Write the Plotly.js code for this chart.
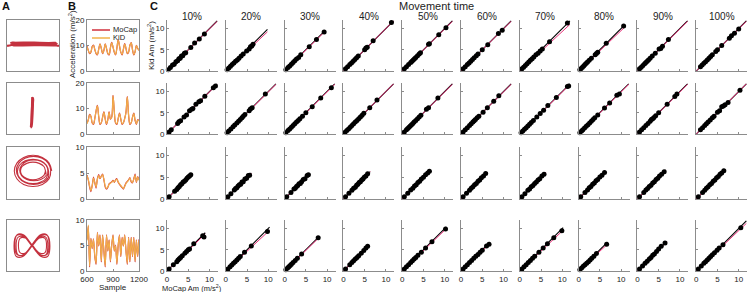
<!DOCTYPE html>
<html><head><meta charset="utf-8">
<script src="https://cdn.plot.ly/plotly-3.0.1.min.js"></script>
<style>html,body{margin:0;padding:0;background:#fff}#chart{width:749px;height:292px}</style>
</head><body><div id="chart"></div>
<script>
// ---------- Panel A : 2D trajectories ----------
const trajAx1 = [-1.0,-0.82,0.9,-0.84,0.88,-0.8,0.92,-0.83,0.9,-0.85,0.87,-0.8,0.9,1.0];
const trajAy1 = [-0.02,0.02,0.06,0.1,0.04,0.0,0.08,0.12,0.02,0.06,0.1,0.04,0.0,-0.02];
const trajAx2 = [-0.02,-0.06,0.0,-0.08,-0.02,-0.07,0.01,-0.05,-0.03];
const trajAy2 = [0.45,-0.7,0.4,-0.73,0.42,-0.68,0.38,-0.72,0.44];
const trajAx3 = [0.72,0.62,0.36,0,-0.36,-0.62,-0.72,-0.62,-0.36,0,0.36,0.62,
                 0.68,0.59,0.35,0.02,-0.31,-0.55,-0.64,-0.55,-0.31,0.02,0.35,0.59,
                 0.6,0.52,0.3,0,-0.3,-0.52,-0.6,-0.52,-0.3,0,0.3,0.52,
                 0.57,0.5,0.3,0.03,-0.24,-0.44,-0.51,-0.44,-0.24,0.03,0.3,0.5,
                 0.48,0.42,0.24,0,-0.24,-0.42,-0.48,-0.42,-0.24,0,0.24,0.42,0.48];
const trajAy3 = [0.08,0.38,0.6,0.68,0.6,0.38,0.08,-0.22,-0.44,-0.52,-0.44,-0.22,
                 0.1,0.37,0.57,0.64,0.57,0.37,0.1,-0.17,-0.37,-0.44,-0.37,-0.17,
                 0.06,0.3,0.47,0.53,0.47,0.3,0.06,-0.18,-0.35,-0.41,-0.35,-0.18,
                 0.1,0.3,0.45,0.5,0.45,0.3,0.1,-0.1,-0.25,-0.3,-0.25,-0.1,
                 0.08,0.25,0.37,0.42,0.37,0.25,0.08,-0.09,-0.21,-0.26,-0.21,-0.09,0.08];
const trajAx4 = [-0.04,0.31,0.56,0.65,0.56,0.31,-0.04,-0.39,-0.64,-0.73,-0.64,-0.39,
                 -0.04,0.26,0.49,0.57,0.49,0.26,-0.04,-0.34,-0.57,-0.65,-0.57,-0.34,
                 -0.02,0.25,0.45,0.52,0.45,0.25,-0.02,-0.29,-0.49,-0.56,-0.49,-0.29,
                 -0.04,0.29,0.53,0.62,0.53,0.29,-0.04,-0.37,-0.61,-0.7,-0.61,-0.37,-0.04];
const trajAy4 = [-0.02,0.39,0.39,-0.02,-0.43,-0.43,-0.02,0.39,0.39,-0.02,-0.43,-0.43,
                 -0.02,0.33,0.33,-0.02,-0.37,-0.37,-0.02,0.33,0.33,-0.02,-0.37,-0.37,
                 0.0,0.29,0.29,0.0,-0.29,-0.29,0.0,0.29,0.29,0.0,-0.29,-0.29,
                 0.03,0.42,0.42,0.03,-0.36,-0.36,0.03,0.42,0.42,0.03,-0.36,-0.36,0.03];

// ---------- Panel B : acceleration time series ----------
const sampleIdx = [600,615,630,645,660,675,690,705,720,735,750,765,780,795,810,825,840,855,870,885,900,
                   915,930,945,960,975,990,1005,1020,1035,1050,1065,1080,1095,1110,1125,1140,1155,1170,1185,1200];
const mocapB1 = [9.7,8.1,6.8,7.4,9.6,10.2,8.4,6.8,6.3,8.6,10.6,8.9,6.8,8.1,10.6,8.8,6.8,6.3,9.1,11.2,9.4,7.3,6.3,9.1,12.2,9.8,7.3,6.3,8.6,10.7,8.8,6.8,7.4,10.1,11.1,8.3,6.3,7.6,10.1,8.8,8.1];
const kidB1   = [9.5,8,7,7.5,9.5,10,8.5,7,6.5,8.5,10.5,9,7,8,10.5,9,7,6.5,9,11,9.5,7.5,6.5,9,12,10,7.5,6.5,8.5,10.5,9,7,7.5,10,11,8.5,6.5,7.5,10,9,8];
const mocapB2 = [4.2,5.6,7.7,7.0,4.3,3.8,6.1,9.1,11.2,6.8,3.8,4.4,6.6,8.7,5.9,3.8,5.6,8.7,5.8,6.6,15.2,8.8,4.3,3.8,6.1,8.2,5.8,3.8,4.4,6.1,8.6,14.7,7.3,3.8,4.4,6.6,8.2,5.3,3.8,5.6,5.2];
const kidB2   = [4,5.5,7.5,7,4.5,4,6,9,11,7,4,4.5,6.5,8.5,6,4,5.5,8.5,6,6.5,15,9,4.5,4,6,8,6,4,4.5,6,8.5,14.5,7.5,4,4.5,6.5,8,5.5,4,5.5,5];
const mocapB3 = [4.6,3.7,2.3,1.4,2.6,4.2,3.1,2.1,3.9,4.7,3.9,4.4,4.8,3.7,2.3,1.9,2.2,2.9,3.1,3.3,3.6,3.2,3.7,3.9,3.2,2.8,2.5,2.2,1.9,2.5,3.1,3.4,3.7,4.1,3.3,3.1,3.9,4.8,3.2,4.3,3.7];
const kidB3   = [4.5,3.8,2.5,1.6,2.5,4,3.2,2.3,3.8,4.5,4,4.3,4.7,3.8,2.5,2,2.3,2.8,3,3.2,3.5,3.3,3.6,3.8,3.3,2.9,2.6,2.3,2,2.4,3,3.3,3.6,4,3.4,3.2,3.8,4.6,3.3,4.2,3.6];
const mocapB4 = [6.2,8.8,0.8,6.4,4.4,6.3,2.8,1.3,7.6,4.9,7.1,1.8,7.1,3.9,0.8,7.1,3.9,6.1,1.8,5.1,7.1,3.9,5.1,1.3,5.1,7.1,2.8,6.6,4.9,7.1,3.9,1.3,6.6,1.8,6.6,2.8,6.6,1.8,6.1,2.8,6.2];
const kidB4   = [6,9,1,6.3,4.5,6.2,3,1.5,7.5,5,7,2,7,4,1,7,4,6,2,5,7,4,5,1.5,5,7,3,6.5,5,7,4,1.5,6.5,2,6.5,3,6.5,2,6,3,6];
const bRanges = [20,20,10,10];
const bTicks = [[0,10,20],[0,10,20],[0,5,10],[0,5,10]];

// ---------- Panel C : Kid vs MoCap amplitude ----------
const colLabels = ['10%','20%','30%','40%','50%','60%','70%','80%','90%','100%'];
const mocapRow1 = [
 [0.3,0.8,1.3,1.7,2.1,2.5,2.8,3.1,3.4,3.7,4.1,4.4,5.6,6.5,7.6,8.8],
 [0.3,0.7,1.1,1.5,1.9,2.3,2.7,3.1,3.6,4.1,4.9,5.5,5.8,6.1,6.4],
 [0.3,0.8,1.2,1.6,2.0,2.4,2.8,3.3,3.8,5.8,7.5,9.3],
 [0.5,1.0,1.5,1.9,2.3,2.7,3.1,3.5,5.0,5.3,5.6,7.0,11.3],
 [0.5,1.0,1.5,2.0,2.3,2.6,2.9,3.2,3.6,4.0,4.3,6.2,6.4,8.6,10.3],
 [0.5,1.0,1.5,1.9,2.3,2.7,3.1,3.6,4.0,5.0,6.3,8.8,9.7],
 [0.5,0.9,1.3,1.7,2.1,2.5,2.9,3.3,3.8,4.3,4.8,5.3,7.0,11.2],
 [0.3,0.6,0.9,1.2,1.5,1.8,2.1,2.5,3.0,3.9,4.2,4.5,6.5,10.6],
 [0.5,0.9,1.3,1.7,2.0,2.3,2.6,3.0,3.5,4.2,5.1,5.5,5.9,7.3],
 [1.0,1.4,1.8,2.2,2.6,3.0,3.4,3.8,4.6,5.0,6.0,7.8,8.3,9.0,10.0]];
const kidRow1 = [
 [0.3,0.8,1.4,1.6,2.2,2.4,2.9,3.0,3.5,3.6,4.2,4.3,5.5,6.6,7.5,8.7],
 [0.3,0.7,1.1,1.5,1.9,2.3,2.6,3.0,3.5,4.0,4.7,5.2,5.7,5.9,6.3],
 [0.3,0.8,1.2,1.6,2.0,2.4,2.8,3.2,3.8,5.7,7.4,9.2],
 [0.5,1.0,1.5,1.9,2.3,2.7,3.1,3.5,5.0,5.4,5.6,7.1,11.4],
 [0.5,1.0,1.5,2.0,2.3,2.6,2.9,3.2,3.6,4.0,4.3,6.3,6.4,8.5,10.2],
 [0.5,1.0,1.5,1.9,2.3,2.7,3.1,3.6,4.0,5.0,6.2,8.8,9.6],
 [0.5,0.9,1.3,1.7,2.1,2.5,2.9,3.3,3.8,4.2,4.7,5.2,6.9,11.3],
 [0.3,0.6,0.9,1.2,1.5,1.8,2.1,2.5,3.0,3.8,4.1,4.4,6.5,10.6],
 [0.5,0.9,1.3,1.7,2.0,2.3,2.6,3.0,3.5,4.2,5.2,5.3,5.8,7.4],
 [1.0,1.4,1.8,2.2,2.6,3.0,3.4,3.8,4.6,5.0,6.0,7.7,8.3,8.9,9.9]];
const mocapRow2 = [
 [0.5,1.0,2.5,2.8,3.2,4.0,4.6,5.3,5.8,6.1,6.8,7.5,7.9,8.9,10.9,11.4],
 [0.3,0.7,1.2,1.7,2.1,2.6,3.0,3.4,3.8,4.1,4.5,5.5,5.8,6.2,9.3],
 [0.3,0.8,1.2,1.6,2.0,2.4,2.8,3.2,3.6,4.2,5.0,6.5,8.5,11.0],
 [0.4,0.8,1.2,1.6,2.0,2.4,2.8,3.2,3.6,4.0,4.4,4.8,6.2,7.9],
 [0.5,1.0,1.3,1.6,1.9,2.2,2.5,2.8,3.2,3.6,4.0,4.4,5.7,6.2,8.4],
 [0.5,1.0,1.5,2.0,2.4,2.8,3.1,3.4,3.8,4.2,5.2,6.2,7.7,8.9],
 [0.3,0.7,1.1,1.5,1.9,2.3,2.7,3.2,4.0,4.8,5.6,6.6,8.6,11.2,11.5],
 [0.3,0.7,1.0,1.4,1.8,2.2,2.6,3.0,3.4,3.8,4.5,6.1,7.3,9.0,9.6],
 [0.5,1.0,1.5,2.0,2.5,3.0,3.3,3.6,3.9,4.3,5.0,7.0,8.8,9.3],
 [1.0,1.5,2.0,2.4,2.8,3.3,3.8,4.2,5.0,5.5,6.0,6.4,6.8,7.5,10.3]];
const kidRow2 = [
 [0.5,1.0,2.5,2.9,3.1,4.0,4.5,5.5,5.8,6.0,7.0,7.6,7.8,8.9,10.9,11.3],
 [0.3,0.7,1.2,1.7,2.1,2.6,3.0,3.4,3.8,4.2,4.6,5.5,5.9,6.2,9.4],
 [0.3,0.8,1.2,1.6,2.0,2.4,2.8,3.2,3.6,4.2,5.0,6.4,8.5,10.9],
 [0.4,0.8,1.2,1.6,2.0,2.4,2.8,3.2,3.6,4.0,4.4,4.9,6.2,8.0],
 [0.5,1.0,1.3,1.6,1.9,2.2,2.5,2.8,3.2,3.6,4.0,4.4,5.8,6.2,8.5],
 [0.5,1.0,1.5,2.0,2.4,2.8,3.1,3.4,3.8,4.2,5.1,6.2,7.7,9.0],
 [0.3,0.7,1.1,1.5,1.9,2.3,2.7,3.2,4.0,4.8,5.6,6.7,8.6,11.2,11.3],
 [0.3,0.7,1.0,1.4,1.8,2.2,2.6,3.0,3.4,3.8,4.5,6.1,7.3,9.1,9.4],
 [0.5,1.0,1.5,2.0,2.5,3.0,3.4,3.6,3.9,4.3,5.0,7.0,8.8,9.4],
 [1.0,1.5,2.0,2.4,2.8,3.3,3.8,4.2,5.1,5.5,6.4,6.6,6.9,7.4,10.3]];
const mocapRow3 = [
 [0.5,1.8,2.3,2.6,2.9,3.2,3.5,3.8,4.1,4.4,4.7,5.0,5.3,5.6],
 [0.5,1.2,2.0,2.3,2.6,2.9,3.2,3.5,3.8,4.1,4.5,4.9,5.3,5.6],
 [0.5,1.5,2.2,2.5,2.8,3.1,3.4,3.7,4.0,4.4,4.8,5.3,5.6],
 [0.5,1.3,2.0,2.4,2.8,3.1,3.4,3.7,4.0,4.3,4.6,4.9,5.3,5.7],
 [0.5,1.3,2.0,2.5,2.9,3.3,3.7,4.1,4.5,5.0,5.5,6.0,6.4],
 [0.5,1.3,2.0,2.4,2.8,3.2,3.6,4.0,4.4,4.8,5.3,5.8],
 [0.5,1.2,1.9,2.3,2.7,3.1,3.5,3.9,4.3,4.7,5.2,5.7],
 [0.5,1.5,2.1,2.5,2.9,3.3,3.7,4.1,4.5,5.0,5.5,6.1],
 [0.5,1.5,2.0,2.4,2.8,3.2,3.6,4.0,4.4,4.8,5.2,5.7,6.3],
 [0.5,1.5,2.0,2.4,2.8,3.2,3.6,4.0,4.4,4.8,5.2,5.6,6.0,6.5]];
const kidRow3 = [
 [0.5,1.8,2.2,2.6,2.9,3.3,3.5,3.9,4.1,4.4,4.8,5.1,5.3,5.6],
 [0.5,1.2,2.1,2.4,2.6,3.0,3.3,3.4,3.9,4.0,4.6,4.8,5.4,5.5],
 [0.5,1.5,2.3,2.5,2.9,3.1,3.5,3.6,4.0,4.5,4.7,5.4,5.6],
 [0.5,1.3,2.0,2.5,2.7,3.2,3.4,3.8,4.0,4.4,4.6,5.0,5.3,5.8],
 [0.5,1.3,2.1,2.5,3.0,3.3,3.8,4.1,4.6,5.0,5.6,6.0,6.4],
 [0.5,1.3,2.0,2.5,2.8,3.3,3.6,4.1,4.4,4.9,5.3,5.9],
 [0.5,1.2,2.0,2.3,2.8,3.1,3.6,3.9,4.4,4.7,5.3,5.7],
 [0.5,1.5,2.1,2.6,2.9,3.4,3.7,4.2,4.5,5.1,5.5,6.1],
 [0.5,1.5,2.1,2.4,2.9,3.2,3.7,4.0,4.5,4.8,5.3,5.7,6.3],
 [0.5,1.5,2.0,2.5,2.8,3.3,3.6,4.1,4.4,4.9,5.2,5.7,6.0,6.5]];
const mocapRow4 = [
 [0.5,1.5,2.3,2.6,2.9,3.2,3.6,4.2,4.6,5.0,5.3,6.3,8.4,8.7],
 [0.5,1.0,1.4,1.8,2.2,2.6,3.0,3.4,4.4,6.0,9.8],
 [0.3,0.7,1.0,1.3,1.6,2.0,2.5,3.0,4.0,7.9],
 [0.5,1.5,2.0,2.4,2.8,3.2,3.6,4.2,4.8,5.3,5.7],
 [0.5,1.0,1.5,2.0,2.4,2.8,3.2,3.7,4.5,5.5,7.0,10.2],
 [0.5,1.0,1.5,2.0,2.5,3.0,3.5,4.0,4.5,5.0,6.0,6.6],
 [0.5,1.0,1.5,2.0,2.5,3.0,3.5,4.5,5.5,6.5,8.0,9.9],
 [0.3,0.7,1.1,1.5,1.9,2.3,2.7,3.1,3.6,4.2,6.6],
 [0.5,1.2,1.8,2.3,2.8,3.2,3.6,4.0,4.5,5.0,5.6,6.5],
 [0.5,1.2,1.8,2.2,2.6,3.0,3.4,3.8,4.3,4.9,5.4,6.3,10.5]];
const kidRow4 = [
 [0.5,1.5,2.2,2.6,2.9,3.2,3.6,4.2,4.6,5.0,5.2,6.4,8.3,8.0],
 [0.5,1.0,1.4,1.8,2.2,2.6,3.0,3.4,4.4,5.9,9.3],
 [0.3,0.7,1.0,1.3,1.6,2.0,2.5,3.0,4.0,7.8],
 [0.5,1.5,2.0,2.4,2.8,3.2,3.6,4.2,4.8,5.4,5.8],
 [0.5,1.0,1.5,2.0,2.4,2.8,3.2,3.7,4.4,5.4,6.9,9.9],
 [0.5,1.0,1.5,2.0,2.5,3.0,3.5,3.9,4.4,4.9,5.9,6.3],
 [0.5,1.0,1.5,2.0,2.5,3.0,3.5,4.4,5.4,6.4,7.8,9.5],
 [0.3,0.7,1.1,1.5,1.8,2.2,2.6,3.0,3.5,4.1,6.3],
 [0.5,1.2,1.8,2.3,2.8,3.2,3.7,4.0,4.6,5.2,5.8,6.6],
 [0.5,1.2,1.8,2.2,2.6,3.0,3.4,3.8,4.3,4.9,5.4,6.2,10.2]];
const lineEndRows = [
 [11.8,9.8,9.4,11.8,11.8,11.8,11.8,10.8,11.8,11.8],
 [11.8,11.8,11.8,11.8,11.8,11.8,11.8,11.8,11.8,11.8],
 [5.9,6.0,5.8,6.3,6.6,6.2,6.1,6.3,6.7,6.8],
 [9.0,10.3,8.1,6.0,10.4,6.8,10.2,6.8,6.9,11.8]];
const fitSlopeRows = [
 [0.99,0.94,0.98,1.0,0.99,0.99,0.93,0.95,0.99,0.99],
 [0.99,0.99,0.99,1.0,0.99,0.99,0.99,0.99,0.99,1.0],
 [1.0,1.0,1.0,1.0,0.99,1.0,1.0,1.0,1.0,1.0],
 [0.97,0.93,0.97,1.0,0.96,0.95,0.94,0.93,1.0,0.95]];

// ---------- build ----------
const W = 749, H = 292;
const FONT = 'Liberation Sans, Arial, sans-serif';
const AXC = '#8c8c8c';
const traces = [];
const layout = {
  width: W, height: H, margin: {l:0, r:0, t:0, b:0}, showlegend: false,
  paper_bgcolor: '#fff', plot_bgcolor: 'rgba(0,0,0,0)',
  font: {family: FONT, size: 8, color: '#222'},
  annotations: [], shapes: []
};
let k = 0;
function addAxes(x0, x1, top, bot, xo, yo) {
  k++;
  const s = k === 1 ? '' : String(k);
  layout['xaxis' + s] = Object.assign({domain: [x0 / W, x1 / W], anchor: 'y' + s, showgrid: false, zeroline: false, fixedrange: true}, xo);
  layout['yaxis' + s] = Object.assign({domain: [1 - bot / H, 1 - top / H], anchor: 'x' + s, showgrid: false, zeroline: false, fixedrange: true}, yo);
  return {xaxis: 'x' + s, yaxis: 'y' + s};
}
const rowPx = [[20, 71], [83, 134], [147, 199], [220, 271]];

// Panel A
const trajX = [trajAx1, trajAx2, trajAx3, trajAx4];
const trajY = [trajAy1, trajAy2, trajAy3, trajAy4];
const trajW = [2.2, 2.2, 1.1, 1.1];
for (let r = 0; r < 4; r++) {
  const boxA = {range: [-1, 1], showline: true, mirror: true, linecolor: AXC, linewidth: 1, ticks: '', showticklabels: false};
  const ax = addAxes(7, 59, rowPx[r][0], rowPx[r][1], boxA, boxA);
  traces.push(Object.assign({x: trajX[r], y: trajY[r], mode: 'lines', line: {color: '#C4323F', width: trajW[r], shape: 'spline', smoothing: 1}, hoverinfo: 'skip'}, ax));
}

// Panel B
const mocapB = [mocapB1, mocapB2, mocapB3, mocapB4];
const kidB = [kidB1, kidB2, kidB3, kidB4];
for (let r = 0; r < 4; r++) {
  const ax = addAxes(87, 139, rowPx[r][0], rowPx[r][1],
    {range: [600, 1200], tickvals: [600, 900, 1200], ticks: 'inside', ticklen: 2, tickcolor: AXC, showline: true, mirror: true, linecolor: AXC, showticklabels: r === 3, tickfont: {size: 8}},
    {range: [0, bRanges[r]], tickvals: bTicks[r], ticks: 'inside', ticklen: 2, tickcolor: AXC, showline: true, mirror: true, linecolor: AXC, tickfont: {size: 8}});
  const sm = r < 2 ? 1 : 0.5;
  traces.push(Object.assign({x: sampleIdx, y: mocapB[r], mode: 'lines', line: {color: '#D0313C', width: 1.2, shape: 'spline', smoothing: sm}, hoverinfo: 'skip'}, ax));
  traces.push(Object.assign({x: sampleIdx, y: kidB[r], mode: 'lines', line: {color: '#F2B24A', width: 1.2, shape: 'spline', smoothing: sm}, opacity: 0.95, hoverinfo: 'skip'}, ax));
}

// Panel C
const mocapC = [mocapRow1, mocapRow2, mocapRow3, mocapRow4];
const kidC = [kidRow1, kidRow2, kidRow3, kidRow4];
for (let r = 0; r < 4; r++) {
  for (let c = 0; c < 10; c++) {
    const x0 = 167 + c * 58.8;
    const ax = addAxes(x0, x0 + 51, rowPx[r][0], rowPx[r][1],
      {range: [0, 12], tickvals: [0, 5, 10], ticks: 'inside', ticklen: 2, tickcolor: AXC, showline: true, linecolor: AXC, showticklabels: r === 3, tickfont: {size: 8}},
      {range: [0, 12], tickvals: [0, 5, 10], ticks: 'inside', ticklen: 2, tickcolor: AXC, showline: true, linecolor: AXC, showticklabels: c === 0, tickfont: {size: 8}});
    const e = lineEndRows[r][c], s = fitSlopeRows[r][c];
    traces.push(Object.assign({x: [0, e], y: [0, e], mode: 'lines', line: {color: '#000', width: 1.1}, hoverinfo: 'skip'}, ax));
    traces.push(Object.assign({x: [0, e], y: [0, e * s], mode: 'lines', line: {color: '#E8337A', width: 1}, hoverinfo: 'skip'}, ax));
    traces.push(Object.assign({x: mocapC[r][c], y: kidC[r][c], mode: 'markers', marker: {color: '#000', size: 5}, cliponaxis: false, hoverinfo: 'skip'}, ax));
  }
  if (r === 0) {
    for (let c = 0; c < 10; c++) {
      layout.annotations.push({text: colLabels[c], xref: 'paper', yref: 'paper', x: (167 + c * 58.8 + 25.5) / W, y: 1 - 16 / H, showarrow: false, xanchor: 'center', yanchor: 'middle', font: {size: 10, color: '#222'}});
    }
  }
}

function ann(text, px, py, opts) {
  layout.annotations.push(Object.assign({text: text, xref: 'paper', yref: 'paper', x: px / W, y: 1 - py / H, showarrow: false, xanchor: 'center', yanchor: 'middle', font: {size: 8, color: '#222'}}, opts || {}));
}
ann('<b>A</b>', 6, 6, {font: {size: 11, color: '#111'}});
ann('<b>B</b>', 72, 6, {font: {size: 11, color: '#111'}});
ann('<b>C</b>', 154, 6, {font: {size: 11, color: '#111'}});
ann('Movement time', 436, 6, {font: {size: 11, color: '#222'}});
ann('Acceleration (m/s<sup>2</sup>)', 72, 44, {textangle: -90});
ann('Kid Am (m/s<sup>2</sup>)', 151, 46, {textangle: -90});
ann('MoCap Am (m/s<sup>2</sup>)', 192, 287.5, {font: {size: 7.5, color: '#222'}});
ann('Sample', 113, 287.5, {font: {size: 8, color: '#222'}});
// legend of panel B
layout.shapes.push({type: 'line', xref: 'paper', yref: 'paper', x0: 92 / W, x1: 110 / W, y0: 1 - 30 / H, y1: 1 - 30 / H, line: {color: '#D0313C', width: 1.5}});
layout.shapes.push({type: 'line', xref: 'paper', yref: 'paper', x0: 92 / W, x1: 110 / W, y0: 1 - 38 / H, y1: 1 - 38 / H, line: {color: '#F2B24A', width: 1.5}});
ann('MoCap', 111, 30, {xanchor: 'left', font: {size: 7.5, color: '#222'}});
ann('KiD', 111, 38, {xanchor: 'left', font: {size: 7.5, color: '#222'}});

Plotly.newPlot('chart', traces, layout, {staticPlot: true, displayModeBar: false});
</script></body></html>
